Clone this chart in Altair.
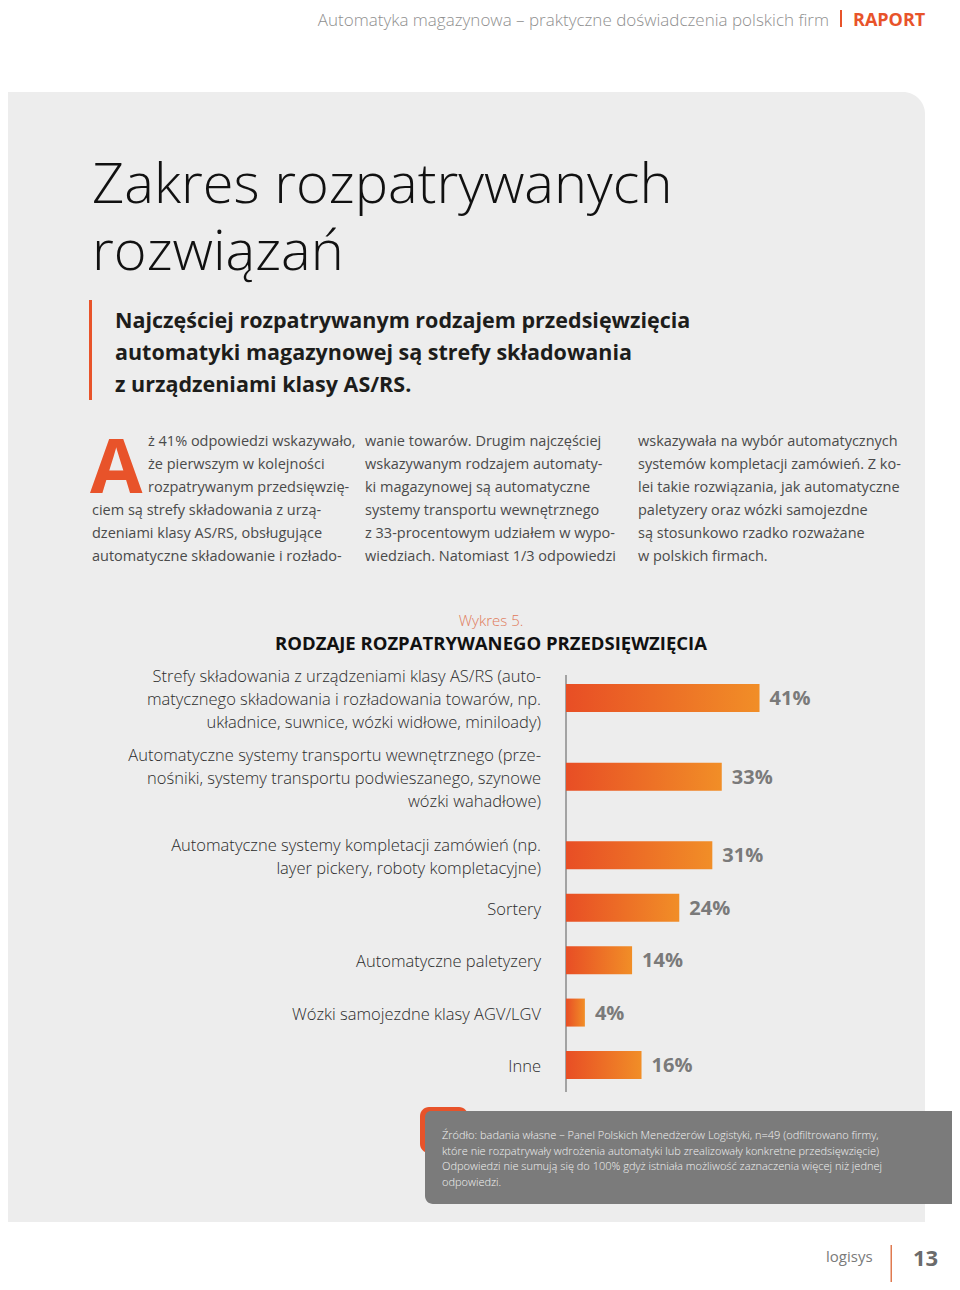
import altair as alt
import pandas as pd

# ---------------- data ----------------
categories = [
    "Strefy składowania z urządzeniami klasy AS/RS (auto-\nmatycznego składowania i rozładowania towarów, np.\nukładnice, suwnice, wózki widłowe, miniloady)",
    "Automatyczne systemy transportu wewnętrznego (prze-\nnośniki, systemy transportu podwieszanego, szynowe\nwózki wahadłowe)",
    "Automatyczne systemy kompletacji zamówień (np.\nlayer pickery, roboty kompletacyjne)",
    "Sortery",
    "Automatyczne paletyzery",
    "Wózki samojezdne klasy AGV/LGV",
    "Inne",
]
values = [41, 33, 31, 24, 14, 4, 16]
value_labels = ["41%", "33%", "31%", "24%", "14%", "4%", "16%"]

header_left = "Automatyka magazynowa – praktyczne doświadczenia polskich firm"
header_right = "RAPORT"
title_lines = ["Zakres rozpatrywanych", "rozwiązań"]
lead_lines = [
    "Najczęściej rozpatrywanym rodzajem przedsięwzięcia",
    "automatyki magazynowej są strefy składowania",
    "z urządzeniami klasy AS/RS.",
]
drop_cap = "A"
col1_top = ["ż 41% odpowiedzi wskazywało,", "że pierwszym w kolejności", "rozpatrywanym przedsięwzię-"]
col1_bottom = ["ciem są strefy składowania z urzą-", "dzeniami klasy AS/RS, obsługujące", "automatyczne składowanie i rozłado-"]
col2 = [
    "wanie towarów. Drugim najczęściej",
    "wskazywanym rodzajem automaty-",
    "ki magazynowej są automatyczne",
    "systemy transportu wewnętrznego",
    "z 33-procentowym udziałem w wypo-",
    "wiedziach. Natomiast 1/3 odpowiedzi",
]
col3 = [
    "wskazywała na wybór automatycznych",
    "systemów kompletacji zamówień. Z ko-",
    "lei takie rozwiązania, jak automatyczne",
    "paletyzery oraz wózki samojezdne",
    "są stosunkowo rzadko rozważane",
    "w polskich firmach.",
]
chart_kicker = "Wykres 5."
chart_title = "RODZAJE ROZPATRYWANEGO PRZEDSIĘWZIĘCIA"
source_lines = [
    "Źródło: badania własne – Panel Polskich Menedżerów Logistyki, n=49 (odfiltrowano firmy,",
    "które nie rozpatrywały wdrożenia automatyki lub zrealizowały konkretne przedsięwzięcie)",
    "Odpowiedzi nie sumują się do 100% gdyż istniała możliwość zaznaczenia więcej niż jednej",
    "odpowiedzi.",
]
footer_logo = "logisys"
page_number = "13"

# ---------------- layout ----------------
W, H = 944, 1274
ORANGE = "#E8532A"
BODY_FONT = "Open Sans"
Y_TOP, Y_BOTTOM = 690, 1057        # pixel range of the bar rows
LABEL_LH = 23                       # line height of category labels

df = pd.DataFrame({"category": categories, "value": values, "label": value_labels})
# row slots: a row is as tall as its label block (at least two lines)
n_lines = [c.count("\n") + 1 for c in categories]
slots = [0.0]
for a in n_lines[:-1]:
    slots.append(slots[-1] + max(2, a))
df["slot"] = slots
units_per_px = (slots[-1] - slots[0]) / (Y_BOTTOM - Y_TOP)
# shift multi-line labels up so the text block is centred on its bar
df["label_slot"] = [s - (n - 1) * LABEL_LH / 2 * units_per_px for s, n in zip(slots, n_lines)]

dummy = pd.DataFrame({"d": [0]})


def txt(text, x, y, size, color, weight="normal", align="left", baseline="alphabetic",
        line_height=None, font=BODY_FONT):
    kw = dict(text=text, fontSize=size, color=color, fontWeight=weight, align=align,
              baseline=baseline, font=font)
    if line_height is not None:
        kw["lineHeight"] = line_height
    return alt.Chart(dummy).mark_text(**kw).encode(x=alt.value(x), y=alt.value(y))


def box(x, x2, y, y2, color, **kw):
    return alt.Chart(dummy).mark_rect(color=color, **kw).encode(
        x=alt.value(x), x2=alt.value(x2), y=alt.value(y), y2=alt.value(y2))


xscale = alt.Scale(domain=[0, 100], range=[558, 1030], zero=True, nice=False, padding=0)
yscale = alt.Scale(domain=[slots[0], slots[-1]], range=[Y_TOP, Y_BOTTOM], zero=False,
                   nice=False, padding=0)

gradient = alt.LinearGradient(
    gradient="linear",
    stops=[alt.GradientStop(color="#E84E25", offset=0),
           alt.GradientStop(color="#F18E27", offset=1)],
    x1=0, x2=1, y1=0, y2=0,
)

base = alt.Chart(df)
bars = base.mark_bar(orient="horizontal", size=28, color=gradient).encode(
    x=alt.X("value:Q", scale=xscale, axis=None),
    y=alt.Y("slot:Q", scale=yscale, axis=None),
)
val_text = base.mark_text(align="left", baseline="middle", dx=10, dy=1, fontSize=20,
                          fontWeight="bold", color="#7A7A7A", font=BODY_FONT).encode(
    x=alt.X("value:Q", scale=xscale, axis=None),
    y=alt.Y("slot:Q", scale=yscale, axis=None),
    text="label:N",
)
cat_text = base.mark_text(align="right", baseline="middle", dy=2, fontSize=16.5,
                          fontWeight=300, color="#2b2b2b", lineBreak="\n",
                          lineHeight=LABEL_LH, font=BODY_FONT).encode(
    x=alt.value(533),
    y=alt.Y("label_slot:Q", scale=yscale, axis=None),
    text="category:N",
)
axis_line = alt.Chart(dummy).mark_rule(color="#8A8A8A", strokeWidth=1.5).encode(
    x=alt.value(558), y=alt.value(667), y2=alt.value(1084))

BODY_SIZE = 14.5
BODY_COLOR = "#4A4A4A"

layers = [
    box(0, 917, 84, 1214, "#EDEDED", cornerRadiusTopRight=22),
    # header
    txt(header_left, 821, 18, 17, "#8F8F8F", weight=300, align="right"),
    box(832, 834, 2, 19, ORANGE),
    txt(header_right, 845, 18, 18, ORANGE, weight="bold"),
    # title
    txt(title_lines, 84, 195, 56, "#111111", weight=300, line_height=67),
    # lead
    box(81, 84, 292, 392, ORANGE),
    txt(lead_lines, 107, 320, 21.5, "#1D1D1B", weight="bold", line_height=32),
    # body columns
    txt(drop_cap, 82, 485, 76, ORANGE, weight="bold"),
    txt(col1_top, 140, 438, BODY_SIZE, BODY_COLOR, line_height=23),
    txt(col1_bottom, 84, 507, BODY_SIZE, BODY_COLOR, line_height=23),
    txt(col2, 357, 438, BODY_SIZE, BODY_COLOR, line_height=23),
    txt(col3, 630, 438, BODY_SIZE, BODY_COLOR, line_height=23),
    # chart heading
    txt(chart_kicker, 483, 618, 15, "#E07A5A", weight=300, align="center"),
    txt(chart_title, 483, 642, 18.5, "#111111", weight="bold", align="center"),
    # chart
    axis_line,
    bars,
    val_text,
    cat_text,
    # source box
    box(412, 460, 1099, 1145, ORANGE, cornerRadius=9),
    box(417, 944, 1103, 1196, "#7B7B7B", cornerRadiusBottomLeft=8, cornerRadiusTopLeft=6),
    txt(source_lines, 434, 1131, 11, "#F2F2F2", weight=300, line_height=15.6),
    # footer
    txt(footer_logo, 818, 1254, 15, "#7A7A7A"),
    box(882.5, 884, 1237, 1274, "#E07A50"),
    txt(page_number, 905, 1258, 22, "#6B6B6B", weight="bold"),
]

chart = alt.layer(*layers).properties(
    width=W, height=H,
    autosize=alt.AutoSizeParams(type="none"),
    padding=0,
    background="white",
).configure_view(stroke=None)

chart.save("out.html", embed_options={"renderer": "svg", "actions": False})
